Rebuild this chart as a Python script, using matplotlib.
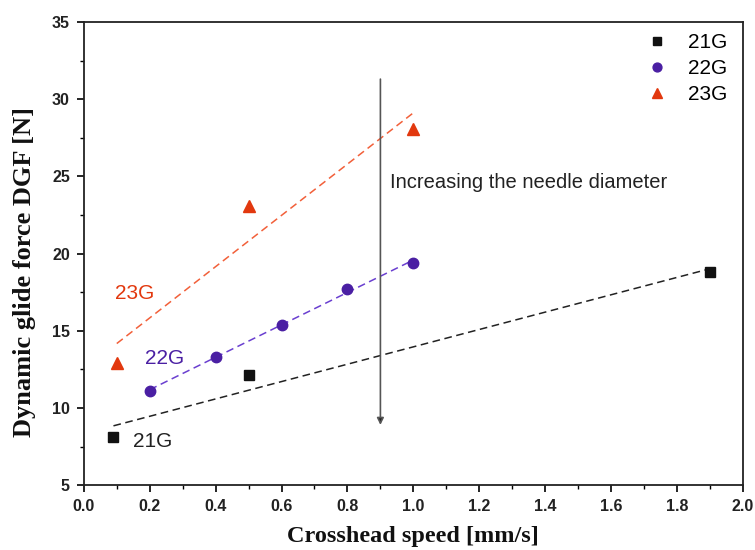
import numpy as np
import matplotlib.pyplot as plt

# -------- data --------
x21 = [0.09, 0.5, 1.9]
y21 = [8.1, 12.1, 18.8]
x22 = [0.2, 0.4, 0.6, 0.8, 1.0]
y22 = [11.1, 13.3, 15.4, 17.7, 19.4]
x23 = [0.1, 0.5, 1.0]
y23 = [12.9, 23.1, 28.1]

c21, c22, c23 = '#111111', '#4a1fa3', '#e2380e'
l21, l22, l23 = '#222222', '#6a3fd0', '#f2603a'

plt.rcParams['font.family'] = ['Liberation Sans', 'DejaVu Sans']

fig = plt.figure(figsize=(7.55, 5.5), dpi=100)
ax = fig.add_axes([0.111, 0.118, 0.873, 0.842])


def fit_line(xs, ys, color):
    k, b = np.polyfit(xs, ys, 1)
    xx = np.array([min(xs), max(xs)])
    ax.plot(xx, k * xx + b, '--', color=color, lw=1.1, dashes=(5, 3))


fit_line(x21, y21, l21)
fit_line(x22, y22, l22)
fit_line(x23, y23, l23)

ax.plot(x21, y21, 's', color=c21, ms=7, ls='none', label='21G')
ax.plot(x22, y22, 'o', color=c22, ms=7.5, ls='none', label='22G')
ax.plot(x23, y23, '^', color=c23, ms=8.5, ls='none', label='23G')

# arrow
ax.annotate('', xy=(0.9, 8.9), xytext=(0.9, 31.3),
            arrowprops=dict(arrowstyle='-|>', color='#999999', lw=1.2,
                            mutation_scale=10, shrinkA=0, shrinkB=0,
                            fc='#222222', ec='#555555'))
ax.text(0.93, 24.6, 'Increasing the needle diameter', fontsize=14.5,
        color='#222222', va='center')

ax.text(0.094, 17.4, '23G', color=c23, fontsize=15, va='center')
ax.text(0.185, 13.2, '22G', color=c22, fontsize=15, va='center')
ax.text(0.15, 7.8, '21G', color='#222222', fontsize=15, va='center')

ax.set_xlim(0, 2.0)
ax.set_ylim(5, 35)
ax.set_xticks(np.arange(0, 2.01, 0.2))
ax.set_xticks(np.arange(0.1, 2.0, 0.2), minor=True)
ax.set_yticks(np.arange(5, 36, 5))
ax.set_yticks(np.arange(7.5, 35, 5), minor=True)
ax.tick_params(direction='out', length=5, width=1.2, labelsize=11.5, pad=5)
ax.tick_params(which='minor', direction='out', length=3, width=1.0)
ax.set_xticklabels([f'{v:.1f}' for v in np.arange(0, 2.01, 0.2)],
                   fontweight='bold', color='#222222')
ax.set_yticklabels([str(v) for v in range(5, 36, 5)],
                   fontweight='bold', color='#222222')
for s in ax.spines.values():
    s.set_linewidth(1.3)
    s.set_color('#222222')

ax.set_xlabel('Crosshead speed [mm/s]', fontsize=17.5, fontweight='bold',
              family='Liberation Serif', color='#111111')
ax.set_ylabel('Dynamic glide force DGF [N]', fontsize=19, fontweight='bold',
              family='Liberation Serif', color='#111111')
ax.xaxis.set_label_coords(0.5, -0.088)
ax.yaxis.set_label_coords(-0.073, 0.46)

ax.legend(loc='upper right', frameon=False, fontsize=15, handlelength=1.0,
          handletextpad=1.0, labelspacing=0.34, borderaxespad=0.2,
          bbox_to_anchor=(0.995, 1.003), markerscale=0.85)

fig.savefig('out.png', dpi=100)
